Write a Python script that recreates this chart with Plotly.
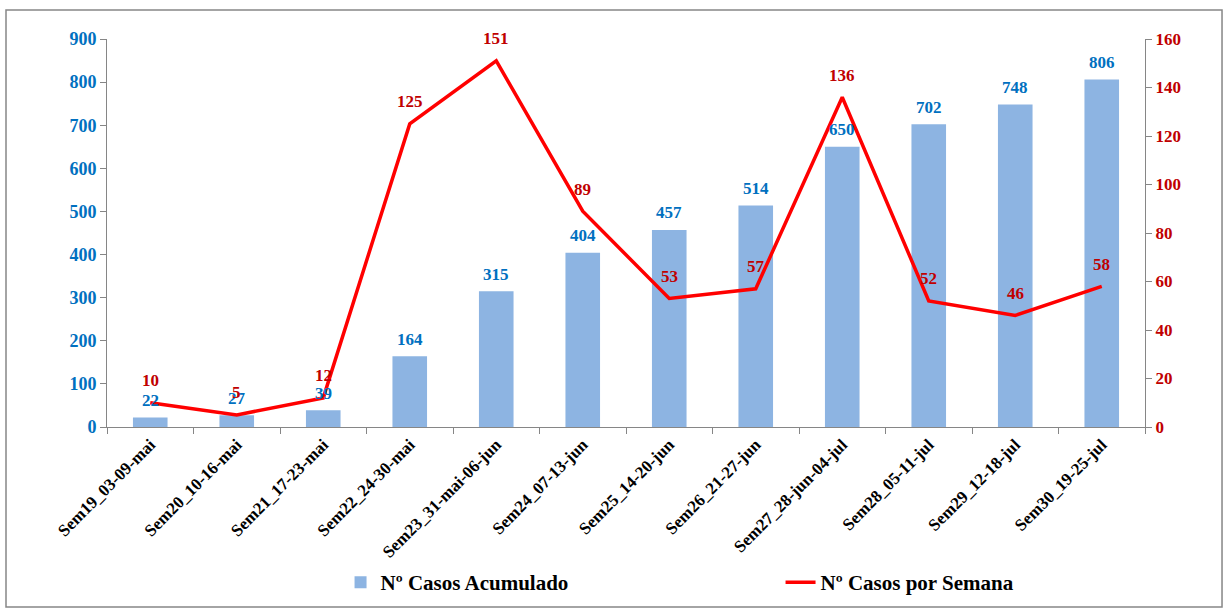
import plotly.graph_objects as go

categories = ["Sem19_03-09-mai", "Sem20_10-16-mai", "Sem21_17-23-mai", "Sem22_24-30-mai",
              "Sem23_31-mai-06-jun", "Sem24_07-13-jun", "Sem25_14-20-jun", "Sem26_21-27-jun",
              "Sem27_28-jun-04-jul", "Sem28_05-11-jul", "Sem29_12-18-jul", "Sem30_19-25-jul"]
acumulado = [22, 27, 39, 164, 315, 404, 457, 514, 650, 702, 748, 806]
por_semana = [10, 5, 12, 125, 151, 89, 53, 57, 136, 52, 46, 58]

FONT = "Liberation Serif"
BLUE_TXT = "#0070C0"
RED_TXT = "#C00000"
GRAY = "#868686"

fig = go.Figure()
fig.add_trace(go.Bar(
    x=categories, y=acumulado, name="Nº Casos Acumulado",
    marker=dict(color="#8DB4E2", line=dict(width=0)), width=0.4,
    cliponaxis=False, yaxis="y"))
fig.add_trace(go.Scatter(
    x=categories, y=por_semana, name="Nº Casos por Semana",
    mode="lines", line=dict(color="#FF0000", width=3.5),
    cliponaxis=False, yaxis="y2"))

annotations = [dict(x=c, y=v, xref="x", yref="y", text=str(v), showarrow=False,
                    yshift=17, font=dict(family=FONT, size=17, color=BLUE_TXT, weight="bold"))
               for c, v in zip(categories, acumulado)]
annotations += [dict(x=c, y=v, xref="x", yref="y2", text=str(v), showarrow=False,
                     yshift=22, font=dict(family=FONT, size=17, color=RED_TXT, weight="bold"))
                for c, v in zip(categories, por_semana)]

fig.update_layout(
    width=1225, height=609,
    margin=dict(l=107, r=80, t=39, b=182, autoexpand=False),
    paper_bgcolor="white", plot_bgcolor="white",
    font=dict(family=FONT, size=14, color="black"),
    showlegend=True,
    legend=dict(orientation="h", x=0.225, xanchor="left", y=-0.348, yanchor="top",
                entrywidth=395, entrywidthmode="pixels", bgcolor="rgba(0,0,0,0)",
                font=dict(family=FONT, size=21, color="black", weight="bold")),
    xaxis=dict(type="category", showgrid=False, showline=True, linecolor=GRAY,
               ticks="outside", tickson="boundaries", ticklen=6, tickcolor=GRAY,
               tickangle=-45, tickfont=dict(family=FONT, size=17, color="black", weight="bold"),
               range=[-0.5, 11.5]),
    yaxis=dict(range=[0, 900], dtick=100, showgrid=False, showline=True, linecolor=GRAY,
               ticks="outside", ticklen=6, tickcolor=GRAY, zeroline=False,
               tickfont=dict(family=FONT, size=18, color=BLUE_TXT, weight="bold")),
    yaxis2=dict(range=[0, 160], dtick=20, overlaying="y", side="right", showgrid=False,
                showline=True, linecolor=GRAY, ticks="outside", ticklen=6,
                tickcolor=GRAY, zeroline=False,
                tickfont=dict(family=FONT, size=17, color=RED_TXT, weight="bold")),
    annotations=annotations,
    shapes=[dict(type="rect", xref="paper", yref="paper", x0=-0.0973, x1=1.0742,
                 y0=-0.4639, y1=1.0747, line=dict(color=GRAY, width=1.5),
                 fillcolor="rgba(0,0,0,0)", layer="below")],
)

fig.write_html("out.html", config={"displayModeBar": False},
               post_script="document.body.style.margin='0px';")
